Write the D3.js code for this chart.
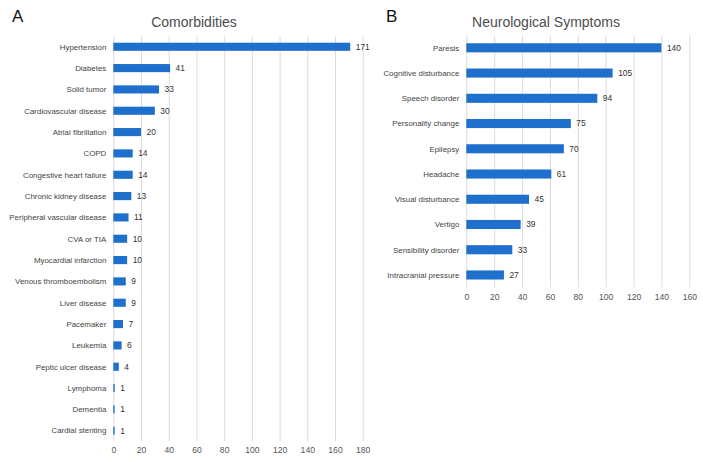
<!DOCTYPE html>
<html>
<head>
<meta charset="utf-8">
<script src="https://cdn.jsdelivr.net/npm/d3@7"></script>
<style>
  body { margin: 0; background: #fff; }
  svg { font-family: "Liberation Sans", Arial, sans-serif; }
  .grid line { stroke: #dcdcdc; stroke-width: 1; }
  .grid .domain { display: none; }
  .grid text { fill: #555; font-size: 8.6px; }
  .cat { fill: #444; font-size: 7.9px; }
  .val { fill: #333; font-size: 8.4px; }
</style>
</head>
<body>
<svg width="703" height="462"></svg>
<script>
// comorbidities (panel A)
var comorbNames = ["Hypertension", "Diabetes", "Solid tumor", "Cardiovascular disease",
    "Atrial fibrillation", "COPD", "Congestive heart failure", "Chronic kidney disease",
    "Peripheral vascular disease", "CVA or TIA", "Myocardial infarction",
    "Venous thromboembolism", "Liver disease", "Pacemaker", "Leukemia",
    "Peptic ulcer disease", "Lymphoma", "Dementia", "Cardial stenting"];
var comorbValues = [171, 41, 33, 30, 20, 14, 14, 13, 11, 10, 10, 9, 9, 7, 6, 4, 1, 1, 1];
var comorbTicks = [0, 20, 40, 60, 80, 100, 120, 140, 160, 180];

// neurological symptoms (panel B)
var neuroNames = ["Paresis", "Cognitive disturbance", "Speech disorder", "Personality change",
    "Epilepsy", "Headache", "Visual disturbance", "Vertigo", "Sensibility disorder",
    "Intracranial pressure"];
var neuroValues = [140, 105, 94, 75, 70, 61, 45, 39, 33, 27];
var neuroTicks = [0, 20, 40, 60, 80, 100, 120, 140, 160];

var svg = d3.select("svg");

function panel(opt) {
    var data = opt.names.map(function(n, i) { return { name: n, value: opt.values[i] }; });

    var x = d3.scaleLinear()
        .domain([0, d3.max(opt.ticks)])
        .range([opt.x0, opt.x1]);

    var y = d3.scaleBand()
        .domain(opt.names)
        .range([opt.y0, opt.y1])
        .paddingInner(opt.pad)
        .paddingOuter(opt.pad / 2);

    var g = svg.append("g");

    // letter + title
    g.append("text")
        .attr("x", opt.letterX).attr("y", 21.5)
        .attr("font-size", 17).attr("fill", "#111")
        .text(opt.letter);
    g.append("text")
        .attr("x", opt.titleX).attr("y", 26.5)
        .attr("text-anchor", "middle")
        .attr("font-size", 14).attr("fill", "#4d4d4d")
        .text(opt.title);

    // vertical gridlines + tick labels
    var axis = d3.axisBottom(x)
        .tickValues(opt.ticks)
        .tickSize(-(opt.y1 - opt.y0))
        .tickPadding(6);

    g.append("g")
        .attr("class", "grid")
        .attr("transform", "translate(0," + opt.y1 + ")")
        .call(axis);

    // bars
    g.selectAll(".bar")
        .data(data)
        .enter()
        .append("rect")
        .attr("class", "bar")
        .attr("x", x(0))
        .attr("y", function(d) { return y(d.name); })
        .attr("width", function(d) { return x(d.value) - x(0); })
        .attr("height", y.bandwidth())
        .attr("fill", "#1f6fcc");

    // category labels
    g.selectAll(".cat")
        .data(data)
        .enter()
        .append("text")
        .attr("class", "cat")
        .attr("x", x(0) - 7)
        .attr("y", function(d) { return y(d.name) + y.bandwidth() / 2; })
        .attr("dy", "0.35em")
        .attr("text-anchor", "end")
        .text(function(d) { return d.name; });

    // value labels
    g.selectAll(".val")
        .data(data)
        .enter()
        .append("text")
        .attr("class", "val")
        .attr("x", function(d) { return x(d.value) + 5.5; })
        .attr("y", function(d) { return y(d.name) + y.bandwidth() / 2; })
        .attr("dy", "0.35em")
        .text(function(d) { return d.value; });
}

panel({
    names: comorbNames, values: comorbValues, ticks: comorbTicks,
    x0: 113.3, x1: 362.7, y0: 36.1, y1: 441.4, pad: 0.62,
    letter: "A", letterX: 12, title: "Comorbidities", titleX: 194
});

panel({
    names: neuroNames, values: neuroValues, ticks: neuroTicks,
    x0: 466.3, x1: 689.3, y0: 35.2, y1: 287.6, pad: 0.64,
    letter: "B", letterX: 386, title: "Neurological Symptoms", titleX: 546
});
</script>
</body>
</html>
